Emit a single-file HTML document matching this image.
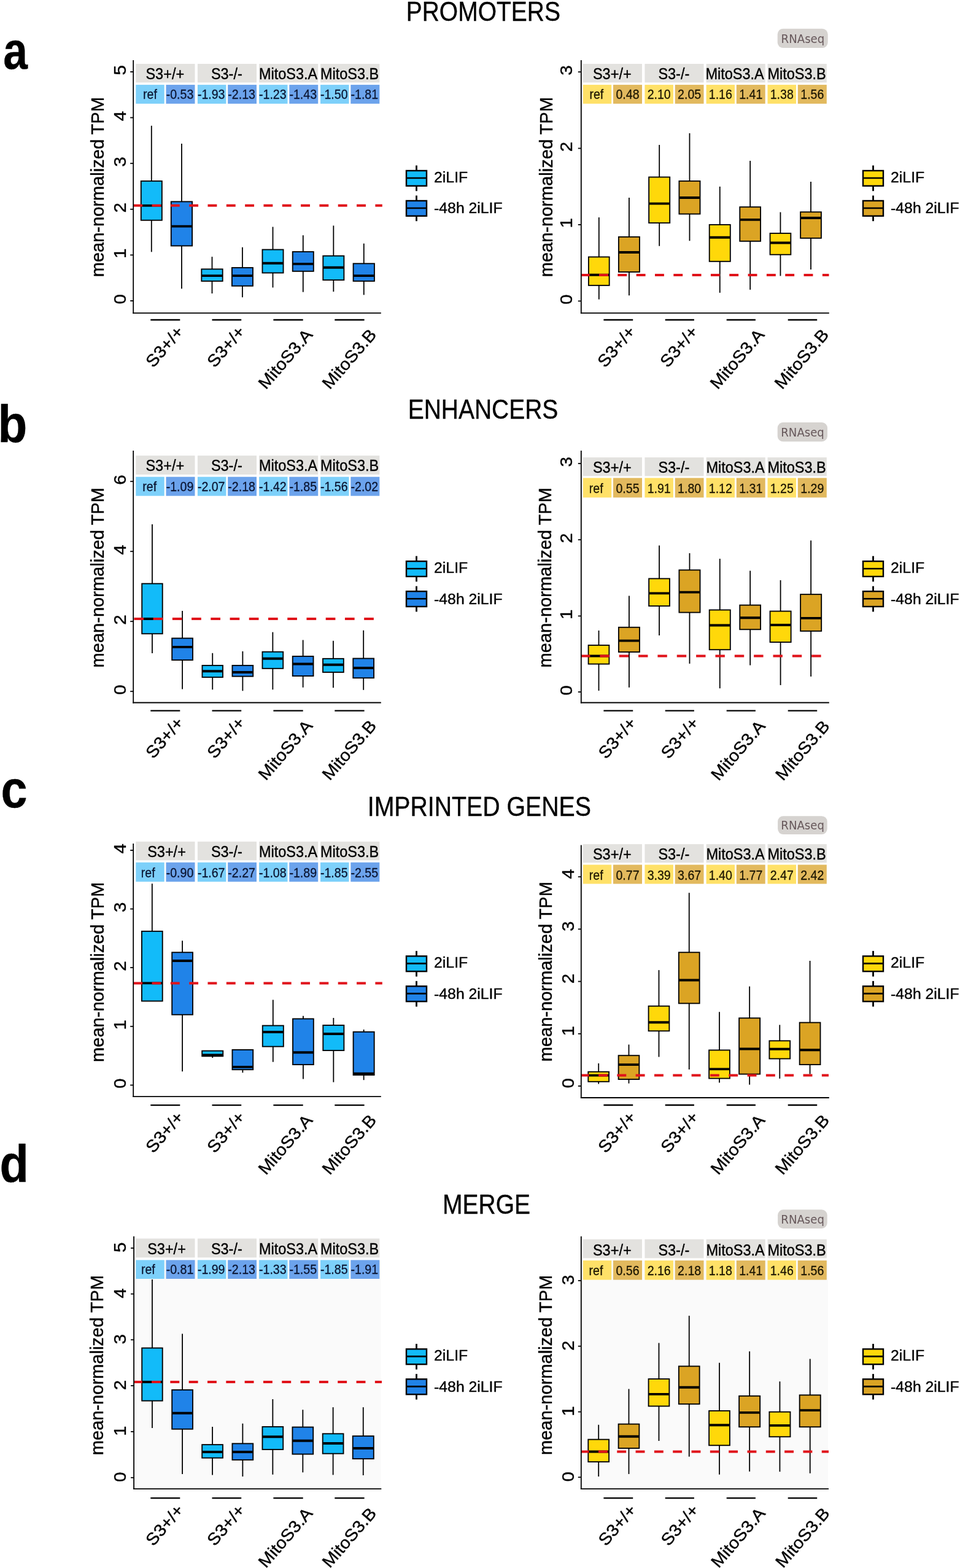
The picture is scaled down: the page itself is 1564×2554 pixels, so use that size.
<!DOCTYPE html>
<html lang="en">
<head>
<meta charset="utf-8">
<title>Figure: promoters, enhancers, imprinted genes, merge</title>
<style>
html,body{margin:0;padding:0;background:#fff;}
body{width:1564px;height:2554px;overflow:hidden;font-family:"Liberation Sans", Arial, Helvetica, sans-serif;}
svg{display:block;}
text{white-space:pre;stroke-width:0.4px;paint-order:stroke;stroke-linejoin:round;}
</style>
</head>
<body>
<svg width="1564" height="2554" viewBox="0 0 1564 2554" font-family='"Liberation Sans", Arial, Helvetica, sans-serif'>
<rect x="0.00" y="0.00" width="1564.00" height="2554.00" fill="#fff"/>
<rect x="221.30" y="104.00" width="96.20" height="30.40" fill="#e3e2df"/>
<text transform="translate(268.80,128.70) scale(0.89,1)" font-size="26.4" text-anchor="middle" fill="#000" stroke="#000">S3+/+</text>
<rect x="321.90" y="104.00" width="96.10" height="30.40" fill="#e3e2df"/>
<text transform="translate(369.35,128.70) scale(0.89,1)" font-size="26.4" text-anchor="middle" fill="#000" stroke="#000">S3-/-</text>
<rect x="422.10" y="104.00" width="96.10" height="30.40" fill="#e3e2df"/>
<text transform="translate(469.55,128.70) scale(0.89,1)" font-size="26.4" text-anchor="middle" fill="#000" stroke="#000">MitoS3.A</text>
<rect x="522.00" y="104.00" width="96.30" height="30.40" fill="#e3e2df"/>
<text transform="translate(569.55,128.70) scale(0.89,1)" font-size="26.4" text-anchor="middle" fill="#000" stroke="#000">MitoS3.B</text>
<rect x="221.30" y="138.10" width="46.40" height="30.80" fill="#7dd0fa"/>
<text transform="translate(244.50,161.20) scale(0.905,1)" font-size="21.6" text-anchor="middle" fill="#0a1430" stroke="#0a1430" style="stroke-width:0.3px">ref</text>
<rect x="270.50" y="138.10" width="47.00" height="30.80" fill="#6ca3ec"/>
<text transform="translate(293.00,161.20) scale(0.905,1)" font-size="21.6" text-anchor="middle" fill="#0a1430" stroke="#0a1430" style="stroke-width:0.3px">-0.53</text>
<rect x="321.90" y="138.10" width="46.50" height="30.80" fill="#7dd0fa"/>
<text transform="translate(344.15,161.20) scale(0.905,1)" font-size="21.6" text-anchor="middle" fill="#0a1430" stroke="#0a1430" style="stroke-width:0.3px">-1.93</text>
<rect x="371.20" y="138.10" width="46.80" height="30.80" fill="#6ca3ec"/>
<text transform="translate(393.60,161.20) scale(0.905,1)" font-size="21.6" text-anchor="middle" fill="#0a1430" stroke="#0a1430" style="stroke-width:0.3px">-2.13</text>
<rect x="422.10" y="138.10" width="46.40" height="30.80" fill="#7dd0fa"/>
<text transform="translate(444.30,161.20) scale(0.905,1)" font-size="21.6" text-anchor="middle" fill="#0a1430" stroke="#0a1430" style="stroke-width:0.3px">-1.23</text>
<rect x="471.30" y="138.10" width="46.90" height="30.80" fill="#6ca3ec"/>
<text transform="translate(493.75,161.20) scale(0.905,1)" font-size="21.6" text-anchor="middle" fill="#0a1430" stroke="#0a1430" style="stroke-width:0.3px">-1.43</text>
<rect x="522.00" y="138.10" width="46.50" height="30.80" fill="#7dd0fa"/>
<text transform="translate(544.25,161.20) scale(0.905,1)" font-size="21.6" text-anchor="middle" fill="#0a1430" stroke="#0a1430" style="stroke-width:0.3px">-1.50</text>
<rect x="571.30" y="138.10" width="47.00" height="30.80" fill="#6ca3ec"/>
<text transform="translate(593.80,161.20) scale(0.905,1)" font-size="21.6" text-anchor="middle" fill="#0a1430" stroke="#0a1430" style="stroke-width:0.3px">-1.81</text>
<line x1="246.80" y1="204.78" x2="246.80" y2="410.35" stroke="#000" stroke-width="1.8"/>
<rect x="229.76" y="294.89" width="34.08" height="63.86" fill="#12bbf9" stroke="#000" stroke-width="1.85"/>
<line x1="229.76" y1="334.83" x2="263.84" y2="334.83" stroke="#000" stroke-width="3.9"/>
<line x1="295.93" y1="233.94" x2="295.93" y2="470.13" stroke="#000" stroke-width="1.8"/>
<rect x="278.75" y="328.42" width="34.37" height="72.02" fill="#2083e8" stroke="#000" stroke-width="1.85"/>
<line x1="278.75" y1="368.66" x2="313.12" y2="368.66" stroke="#000" stroke-width="3.9"/>
<line x1="345.50" y1="418.23" x2="345.50" y2="478.00" stroke="#000" stroke-width="1.8"/>
<rect x="328.32" y="438.35" width="34.37" height="19.54" fill="#12bbf9" stroke="#000" stroke-width="1.85"/>
<line x1="328.32" y1="449.14" x2="362.69" y2="449.14" stroke="#000" stroke-width="3.9"/>
<line x1="394.93" y1="402.77" x2="394.93" y2="484.13" stroke="#000" stroke-width="1.8"/>
<rect x="377.89" y="436.01" width="34.08" height="29.74" fill="#2083e8" stroke="#000" stroke-width="1.85"/>
<line x1="377.89" y1="449.14" x2="411.97" y2="449.14" stroke="#000" stroke-width="3.9"/>
<line x1="444.50" y1="369.53" x2="444.50" y2="468.38" stroke="#000" stroke-width="1.8"/>
<rect x="427.46" y="406.56" width="34.08" height="37.91" fill="#12bbf9" stroke="#000" stroke-width="1.85"/>
<line x1="427.46" y1="428.72" x2="461.54" y2="428.72" stroke="#000" stroke-width="3.9"/>
<line x1="493.77" y1="383.24" x2="493.77" y2="475.67" stroke="#000" stroke-width="1.8"/>
<rect x="476.73" y="410.06" width="34.08" height="31.78" fill="#2083e8" stroke="#000" stroke-width="1.85"/>
<line x1="476.73" y1="429.89" x2="510.82" y2="429.89" stroke="#000" stroke-width="3.9"/>
<line x1="543.34" y1="367.49" x2="543.34" y2="475.09" stroke="#000" stroke-width="1.8"/>
<rect x="526.30" y="416.77" width="34.08" height="39.36" fill="#12bbf9" stroke="#000" stroke-width="1.85"/>
<line x1="526.30" y1="435.72" x2="560.39" y2="435.72" stroke="#000" stroke-width="3.9"/>
<line x1="592.77" y1="396.65" x2="592.77" y2="480.34" stroke="#000" stroke-width="1.8"/>
<rect x="575.58" y="429.31" width="34.37" height="28.58" fill="#2083e8" stroke="#000" stroke-width="1.85"/>
<line x1="575.58" y1="449.14" x2="609.96" y2="449.14" stroke="#000" stroke-width="3.9"/>
<line x1="217.20" y1="334.83" x2="622.80" y2="334.83" stroke="#e0131a" stroke-width="4.0" stroke-dasharray="14.9 15.42" stroke-dashoffset="0"/>
<line x1="217.20" y1="98.00" x2="217.20" y2="510.70" stroke="#000" stroke-width="1.8"/>
<line x1="216.30" y1="509.80" x2="620.80" y2="509.80" stroke="#000" stroke-width="1.8"/>
<line x1="212.20" y1="117.00" x2="217.20" y2="117.00" stroke="#000" stroke-width="1.8"/>
<text transform="translate(205.30,114.40) rotate(-90) scale(1.04,1)" font-size="28.4" text-anchor="middle" fill="#000" stroke="#000">5</text>
<line x1="212.20" y1="191.60" x2="217.20" y2="191.60" stroke="#000" stroke-width="1.8"/>
<text transform="translate(205.30,189.00) rotate(-90) scale(1.04,1)" font-size="28.4" text-anchor="middle" fill="#000" stroke="#000">4</text>
<line x1="212.20" y1="266.20" x2="217.20" y2="266.20" stroke="#000" stroke-width="1.8"/>
<text transform="translate(205.30,263.60) rotate(-90) scale(1.04,1)" font-size="28.4" text-anchor="middle" fill="#000" stroke="#000">3</text>
<line x1="212.20" y1="340.80" x2="217.20" y2="340.80" stroke="#000" stroke-width="1.8"/>
<text transform="translate(205.30,338.20) rotate(-90) scale(1.04,1)" font-size="28.4" text-anchor="middle" fill="#000" stroke="#000">2</text>
<line x1="212.20" y1="415.40" x2="217.20" y2="415.40" stroke="#000" stroke-width="1.8"/>
<text transform="translate(205.30,412.80) rotate(-90) scale(1.04,1)" font-size="28.4" text-anchor="middle" fill="#000" stroke="#000">1</text>
<line x1="212.20" y1="490.00" x2="217.20" y2="490.00" stroke="#000" stroke-width="1.8"/>
<text transform="translate(205.30,487.40) rotate(-90) scale(1.04,1)" font-size="28.4" text-anchor="middle" fill="#000" stroke="#000">0</text>
<text transform="translate(168.60,304.70) rotate(-90) scale(0.985,1)" font-size="29.5" text-anchor="middle" fill="#000" stroke="#000">mean-normalized TPM</text>
<line x1="245.30" y1="521.00" x2="293.30" y2="521.00" stroke="#000" stroke-width="2.3"/>
<text transform="translate(300.60,541.00) rotate(-49.2) scale(1.06,1)" font-size="27.5" text-anchor="end" fill="#000" stroke="#000">S3+/+</text>
<line x1="345.50" y1="521.00" x2="393.20" y2="521.00" stroke="#000" stroke-width="2.3"/>
<text transform="translate(400.60,541.00) rotate(-49.2) scale(1.06,1)" font-size="27.5" text-anchor="end" fill="#000" stroke="#000">S3+/+</text>
<line x1="445.40" y1="521.00" x2="493.70" y2="521.00" stroke="#000" stroke-width="2.3"/>
<text transform="translate(510.60,546.00) rotate(-49.2) scale(1.06,1)" font-size="27.5" text-anchor="end" fill="#000" stroke="#000">MitoS3.A</text>
<line x1="545.30" y1="521.00" x2="593.60" y2="521.00" stroke="#000" stroke-width="2.3"/>
<text transform="translate(614.60,546.00) rotate(-49.2) scale(1.06,1)" font-size="27.5" text-anchor="end" fill="#000" stroke="#000">MitoS3.B</text>
<line x1="678.50" y1="269.50" x2="678.50" y2="311.20" stroke="#000" stroke-width="2.8"/>
<rect x="662.00" y="278.00" width="33.00" height="24.80" fill="#12bbf9" stroke="#000" stroke-width="2.4"/>
<line x1="662.00" y1="290.00" x2="695.00" y2="290.00" stroke="#000" stroke-width="2.6"/>
<text transform="translate(707.10,296.70) scale(1.015,1)" font-size="24.4" text-anchor="start" fill="#000" stroke="#000">2iLIF</text>
<line x1="678.50" y1="318.50" x2="678.50" y2="360.20" stroke="#000" stroke-width="2.8"/>
<rect x="662.00" y="327.00" width="33.00" height="24.80" fill="#2083e8" stroke="#000" stroke-width="2.4"/>
<line x1="662.00" y1="339.00" x2="695.00" y2="339.00" stroke="#000" stroke-width="2.6"/>
<text transform="translate(707.10,347.40) scale(1.015,1)" font-size="24.4" text-anchor="start" fill="#000" stroke="#000">-48h 2iLIF</text>
<rect x="949.80" y="104.00" width="96.20" height="30.40" fill="#e3e2df"/>
<text transform="translate(997.30,128.70) scale(0.89,1)" font-size="26.4" text-anchor="middle" fill="#000" stroke="#000">S3+/+</text>
<rect x="1050.40" y="104.00" width="96.10" height="30.40" fill="#e3e2df"/>
<text transform="translate(1097.85,128.70) scale(0.89,1)" font-size="26.4" text-anchor="middle" fill="#000" stroke="#000">S3-/-</text>
<rect x="1150.60" y="104.00" width="96.10" height="30.40" fill="#e3e2df"/>
<text transform="translate(1197.05,128.70) scale(0.89,1)" font-size="26.4" text-anchor="middle" fill="#000" stroke="#000">MitoS3.A</text>
<rect x="1250.50" y="104.00" width="96.30" height="30.40" fill="#e3e2df"/>
<text transform="translate(1298.05,128.70) scale(0.89,1)" font-size="26.4" text-anchor="middle" fill="#000" stroke="#000">MitoS3.B</text>
<rect x="949.80" y="138.10" width="46.40" height="30.80" fill="#ffe168"/>
<text transform="translate(971.80,161.20) scale(0.905,1)" font-size="21.6" text-anchor="middle" fill="#1a1400" stroke="#1a1400" style="stroke-width:0.3px">ref</text>
<rect x="999.00" y="138.10" width="47.00" height="30.80" fill="#e2b95e"/>
<text transform="translate(1022.50,161.20) scale(0.905,1)" font-size="21.6" text-anchor="middle" fill="#1a1400" stroke="#1a1400" style="stroke-width:0.3px">0.48</text>
<rect x="1050.40" y="138.10" width="46.50" height="30.80" fill="#ffe168"/>
<text transform="translate(1073.65,161.20) scale(0.905,1)" font-size="21.6" text-anchor="middle" fill="#1a1400" stroke="#1a1400" style="stroke-width:0.3px">2.10</text>
<rect x="1099.70" y="138.10" width="46.80" height="30.80" fill="#e2b95e"/>
<text transform="translate(1123.10,161.20) scale(0.905,1)" font-size="21.6" text-anchor="middle" fill="#1a1400" stroke="#1a1400" style="stroke-width:0.3px">2.05</text>
<rect x="1150.60" y="138.10" width="46.40" height="30.80" fill="#ffe168"/>
<text transform="translate(1173.80,161.20) scale(0.905,1)" font-size="21.6" text-anchor="middle" fill="#1a1400" stroke="#1a1400" style="stroke-width:0.3px">1.16</text>
<rect x="1199.80" y="138.10" width="46.90" height="30.80" fill="#e2b95e"/>
<text transform="translate(1223.25,161.20) scale(0.905,1)" font-size="21.6" text-anchor="middle" fill="#1a1400" stroke="#1a1400" style="stroke-width:0.3px">1.41</text>
<rect x="1250.50" y="138.10" width="46.50" height="30.80" fill="#ffe168"/>
<text transform="translate(1273.75,161.20) scale(0.905,1)" font-size="21.6" text-anchor="middle" fill="#1a1400" stroke="#1a1400" style="stroke-width:0.3px">1.38</text>
<rect x="1299.80" y="138.10" width="47.00" height="30.80" fill="#e2b95e"/>
<text transform="translate(1323.30,161.20) scale(0.905,1)" font-size="21.6" text-anchor="middle" fill="#1a1400" stroke="#1a1400" style="stroke-width:0.3px">1.56</text>
<line x1="975.78" y1="354.08" x2="975.78" y2="487.63" stroke="#000" stroke-width="1.8"/>
<rect x="958.88" y="418.52" width="33.79" height="46.36" fill="#ffd80a" stroke="#000" stroke-width="1.85"/>
<line x1="958.88" y1="447.68" x2="992.67" y2="447.68" stroke="#000" stroke-width="3.9"/>
<line x1="1024.91" y1="322.00" x2="1024.91" y2="481.21" stroke="#000" stroke-width="1.8"/>
<rect x="1007.87" y="385.86" width="34.08" height="57.15" fill="#dba424" stroke="#000" stroke-width="1.85"/>
<line x1="1007.87" y1="410.94" x2="1041.95" y2="410.94" stroke="#000" stroke-width="3.9"/>
<line x1="1074.19" y1="235.98" x2="1074.19" y2="400.73" stroke="#000" stroke-width="1.8"/>
<rect x="1057.15" y="288.47" width="34.08" height="74.65" fill="#ffd80a" stroke="#000" stroke-width="1.85"/>
<line x1="1057.15" y1="331.63" x2="1091.23" y2="331.63" stroke="#000" stroke-width="3.9"/>
<line x1="1123.47" y1="217.03" x2="1123.47" y2="392.28" stroke="#000" stroke-width="1.8"/>
<rect x="1106.43" y="294.89" width="34.08" height="53.65" fill="#dba424" stroke="#000" stroke-width="1.85"/>
<line x1="1106.43" y1="322.00" x2="1140.51" y2="322.00" stroke="#000" stroke-width="3.9"/>
<line x1="1172.75" y1="303.92" x2="1172.75" y2="476.84" stroke="#000" stroke-width="1.8"/>
<rect x="1155.71" y="366.03" width="34.08" height="59.78" fill="#ffd80a" stroke="#000" stroke-width="1.85"/>
<line x1="1155.71" y1="386.74" x2="1189.79" y2="386.74" stroke="#000" stroke-width="3.9"/>
<line x1="1222.17" y1="261.94" x2="1222.17" y2="471.88" stroke="#000" stroke-width="1.8"/>
<rect x="1205.28" y="337.17" width="33.79" height="55.69" fill="#dba424" stroke="#000" stroke-width="1.85"/>
<line x1="1205.28" y1="357.87" x2="1239.07" y2="357.87" stroke="#000" stroke-width="3.9"/>
<line x1="1271.45" y1="345.62" x2="1271.45" y2="449.43" stroke="#000" stroke-width="1.8"/>
<rect x="1254.55" y="380.03" width="33.79" height="34.70" fill="#ffd80a" stroke="#000" stroke-width="1.85"/>
<line x1="1254.55" y1="395.48" x2="1288.34" y2="395.48" stroke="#000" stroke-width="3.9"/>
<line x1="1321.02" y1="296.05" x2="1321.02" y2="438.93" stroke="#000" stroke-width="1.8"/>
<rect x="1304.12" y="345.33" width="33.79" height="42.57" fill="#dba424" stroke="#000" stroke-width="1.85"/>
<line x1="1304.12" y1="354.95" x2="1337.91" y2="354.95" stroke="#000" stroke-width="3.9"/>
<line x1="946.80" y1="448.11" x2="1350.50" y2="448.11" stroke="#e0131a" stroke-width="4.0" stroke-dasharray="14.9 15.42" stroke-dashoffset="1.1"/>
<line x1="946.80" y1="98.00" x2="946.80" y2="510.70" stroke="#000" stroke-width="1.8"/>
<line x1="945.90" y1="509.80" x2="1350.80" y2="509.80" stroke="#000" stroke-width="1.8"/>
<line x1="941.80" y1="117.20" x2="946.80" y2="117.20" stroke="#000" stroke-width="1.8"/>
<text transform="translate(932.30,114.60) rotate(-90) scale(1.04,1)" font-size="28.4" text-anchor="middle" fill="#000" stroke="#000">3</text>
<line x1="941.80" y1="241.60" x2="946.80" y2="241.60" stroke="#000" stroke-width="1.8"/>
<text transform="translate(932.30,239.00) rotate(-90) scale(1.04,1)" font-size="28.4" text-anchor="middle" fill="#000" stroke="#000">2</text>
<line x1="941.80" y1="366.00" x2="946.80" y2="366.00" stroke="#000" stroke-width="1.8"/>
<text transform="translate(932.30,363.40) rotate(-90) scale(1.04,1)" font-size="28.4" text-anchor="middle" fill="#000" stroke="#000">1</text>
<line x1="941.80" y1="490.40" x2="946.80" y2="490.40" stroke="#000" stroke-width="1.8"/>
<text transform="translate(932.30,487.80) rotate(-90) scale(1.04,1)" font-size="28.4" text-anchor="middle" fill="#000" stroke="#000">0</text>
<text transform="translate(899.50,304.70) rotate(-90) scale(0.985,1)" font-size="29.5" text-anchor="middle" fill="#000" stroke="#000">mean-normalized TPM</text>
<line x1="983.40" y1="521.00" x2="1031.20" y2="521.00" stroke="#000" stroke-width="2.3"/>
<text transform="translate(1036.60,541.00) rotate(-49.2) scale(1.06,1)" font-size="27.5" text-anchor="end" fill="#000" stroke="#000">S3+/+</text>
<line x1="1083.70" y1="521.00" x2="1130.90" y2="521.00" stroke="#000" stroke-width="2.3"/>
<text transform="translate(1138.60,541.00) rotate(-49.2) scale(1.06,1)" font-size="27.5" text-anchor="end" fill="#000" stroke="#000">S3+/+</text>
<line x1="1183.70" y1="521.00" x2="1230.90" y2="521.00" stroke="#000" stroke-width="2.3"/>
<text transform="translate(1246.60,546.00) rotate(-49.2) scale(1.06,1)" font-size="27.5" text-anchor="end" fill="#000" stroke="#000">MitoS3.A</text>
<line x1="1283.70" y1="521.00" x2="1331.20" y2="521.00" stroke="#000" stroke-width="2.3"/>
<text transform="translate(1351.60,546.00) rotate(-49.2) scale(1.06,1)" font-size="27.5" text-anchor="end" fill="#000" stroke="#000">MitoS3.B</text>
<line x1="1422.50" y1="269.50" x2="1422.50" y2="311.20" stroke="#000" stroke-width="2.8"/>
<rect x="1406.00" y="278.00" width="33.00" height="24.80" fill="#ffd80a" stroke="#000" stroke-width="2.4"/>
<line x1="1406.00" y1="290.00" x2="1439.00" y2="290.00" stroke="#000" stroke-width="2.6"/>
<text transform="translate(1451.10,296.70) scale(1.015,1)" font-size="24.4" text-anchor="start" fill="#000" stroke="#000">2iLIF</text>
<line x1="1422.50" y1="318.50" x2="1422.50" y2="360.20" stroke="#000" stroke-width="2.8"/>
<rect x="1406.00" y="327.00" width="33.00" height="24.80" fill="#dba424" stroke="#000" stroke-width="2.4"/>
<line x1="1406.00" y1="339.00" x2="1439.00" y2="339.00" stroke="#000" stroke-width="2.6"/>
<text transform="translate(1451.10,347.40) scale(1.015,1)" font-size="24.4" text-anchor="start" fill="#000" stroke="#000">-48h 2iLIF</text>
<rect x="221.30" y="742.10" width="96.20" height="30.90" fill="#e3e2df"/>
<text transform="translate(268.80,767.30) scale(0.89,1)" font-size="26.4" text-anchor="middle" fill="#000" stroke="#000">S3+/+</text>
<rect x="321.90" y="742.10" width="96.10" height="30.90" fill="#e3e2df"/>
<text transform="translate(369.35,767.30) scale(0.89,1)" font-size="26.4" text-anchor="middle" fill="#000" stroke="#000">S3-/-</text>
<rect x="422.10" y="742.10" width="96.10" height="30.90" fill="#e3e2df"/>
<text transform="translate(469.55,767.30) scale(0.89,1)" font-size="26.4" text-anchor="middle" fill="#000" stroke="#000">MitoS3.A</text>
<rect x="522.00" y="742.10" width="96.30" height="30.90" fill="#e3e2df"/>
<text transform="translate(569.55,767.30) scale(0.89,1)" font-size="26.4" text-anchor="middle" fill="#000" stroke="#000">MitoS3.B</text>
<rect x="221.30" y="776.70" width="46.40" height="31.00" fill="#7dd0fa"/>
<text transform="translate(243.70,800.00) scale(0.905,1)" font-size="21.6" text-anchor="middle" fill="#0a1430" stroke="#0a1430" style="stroke-width:0.3px">ref</text>
<rect x="270.50" y="776.70" width="47.00" height="31.00" fill="#6ca3ec"/>
<text transform="translate(293.00,800.00) scale(0.905,1)" font-size="21.6" text-anchor="middle" fill="#0a1430" stroke="#0a1430" style="stroke-width:0.3px">-1.09</text>
<rect x="321.90" y="776.70" width="46.50" height="31.00" fill="#7dd0fa"/>
<text transform="translate(344.15,800.00) scale(0.905,1)" font-size="21.6" text-anchor="middle" fill="#0a1430" stroke="#0a1430" style="stroke-width:0.3px">-2.07</text>
<rect x="371.20" y="776.70" width="46.80" height="31.00" fill="#6ca3ec"/>
<text transform="translate(393.60,800.00) scale(0.905,1)" font-size="21.6" text-anchor="middle" fill="#0a1430" stroke="#0a1430" style="stroke-width:0.3px">-2.18</text>
<rect x="422.10" y="776.70" width="46.40" height="31.00" fill="#7dd0fa"/>
<text transform="translate(444.30,800.00) scale(0.905,1)" font-size="21.6" text-anchor="middle" fill="#0a1430" stroke="#0a1430" style="stroke-width:0.3px">-1.42</text>
<rect x="471.30" y="776.70" width="46.90" height="31.00" fill="#6ca3ec"/>
<text transform="translate(493.75,800.00) scale(0.905,1)" font-size="21.6" text-anchor="middle" fill="#0a1430" stroke="#0a1430" style="stroke-width:0.3px">-1.85</text>
<rect x="522.00" y="776.70" width="46.50" height="31.00" fill="#7dd0fa"/>
<text transform="translate(544.25,800.00) scale(0.905,1)" font-size="21.6" text-anchor="middle" fill="#0a1430" stroke="#0a1430" style="stroke-width:0.3px">-1.56</text>
<rect x="571.30" y="776.70" width="47.00" height="31.00" fill="#6ca3ec"/>
<text transform="translate(593.80,800.00) scale(0.905,1)" font-size="21.6" text-anchor="middle" fill="#0a1430" stroke="#0a1430" style="stroke-width:0.3px">-2.02</text>
<line x1="247.97" y1="854.12" x2="247.97" y2="1064.06" stroke="#000" stroke-width="1.8"/>
<rect x="231.22" y="950.63" width="33.50" height="81.64" fill="#12bbf9" stroke="#000" stroke-width="1.85"/>
<line x1="231.22" y1="1008.07" x2="264.72" y2="1008.07" stroke="#000" stroke-width="3.9"/>
<line x1="297.10" y1="994.95" x2="297.10" y2="1122.38" stroke="#000" stroke-width="1.8"/>
<rect x="280.20" y="1039.57" width="33.79" height="35.57" fill="#2083e8" stroke="#000" stroke-width="1.85"/>
<line x1="280.20" y1="1053.85" x2="313.99" y2="1053.85" stroke="#000" stroke-width="3.9"/>
<line x1="346.23" y1="1063.77" x2="346.23" y2="1123.25" stroke="#000" stroke-width="1.8"/>
<rect x="329.48" y="1083.89" width="33.50" height="19.24" fill="#12bbf9" stroke="#000" stroke-width="1.85"/>
<line x1="329.48" y1="1093.22" x2="362.98" y2="1093.22" stroke="#000" stroke-width="3.9"/>
<line x1="395.36" y1="1060.85" x2="395.36" y2="1125.29" stroke="#000" stroke-width="1.8"/>
<rect x="378.47" y="1083.89" width="33.79" height="17.79" fill="#2083e8" stroke="#000" stroke-width="1.85"/>
<line x1="378.47" y1="1094.97" x2="412.26" y2="1094.97" stroke="#000" stroke-width="3.9"/>
<line x1="444.35" y1="1029.65" x2="444.35" y2="1123.25" stroke="#000" stroke-width="1.8"/>
<rect x="427.46" y="1061.73" width="33.79" height="27.12" fill="#12bbf9" stroke="#000" stroke-width="1.85"/>
<line x1="427.46" y1="1072.81" x2="461.25" y2="1072.81" stroke="#000" stroke-width="3.9"/>
<line x1="493.63" y1="1042.48" x2="493.63" y2="1119.75" stroke="#000" stroke-width="1.8"/>
<rect x="476.73" y="1069.02" width="33.79" height="32.07" fill="#2083e8" stroke="#000" stroke-width="1.85"/>
<line x1="476.73" y1="1081.55" x2="510.52" y2="1081.55" stroke="#000" stroke-width="3.9"/>
<line x1="542.91" y1="1043.65" x2="542.91" y2="1120.34" stroke="#000" stroke-width="1.8"/>
<rect x="526.01" y="1072.81" width="33.79" height="22.16" fill="#12bbf9" stroke="#000" stroke-width="1.85"/>
<line x1="526.01" y1="1082.72" x2="559.80" y2="1082.72" stroke="#000" stroke-width="3.9"/>
<line x1="592.19" y1="1026.74" x2="592.19" y2="1123.83" stroke="#000" stroke-width="1.8"/>
<rect x="575.29" y="1072.51" width="33.79" height="31.78" fill="#2083e8" stroke="#000" stroke-width="1.85"/>
<line x1="575.29" y1="1087.97" x2="609.08" y2="1087.97" stroke="#000" stroke-width="3.9"/>
<line x1="217.20" y1="1008.07" x2="610.00" y2="1008.07" stroke="#e0131a" stroke-width="4.0" stroke-dasharray="15.7 15.53" stroke-dashoffset="30.03"/>
<line x1="217.20" y1="734.00" x2="217.20" y2="1145.40" stroke="#000" stroke-width="1.8"/>
<line x1="216.30" y1="1144.50" x2="620.80" y2="1144.50" stroke="#000" stroke-width="1.8"/>
<line x1="212.20" y1="784.20" x2="217.20" y2="784.20" stroke="#000" stroke-width="1.8"/>
<text transform="translate(205.30,781.60) rotate(-90) scale(1.04,1)" font-size="28.4" text-anchor="middle" fill="#000" stroke="#000">6</text>
<line x1="212.20" y1="898.20" x2="217.20" y2="898.20" stroke="#000" stroke-width="1.8"/>
<text transform="translate(205.30,895.60) rotate(-90) scale(1.04,1)" font-size="28.4" text-anchor="middle" fill="#000" stroke="#000">4</text>
<line x1="212.20" y1="1012.20" x2="217.20" y2="1012.20" stroke="#000" stroke-width="1.8"/>
<text transform="translate(205.30,1009.60) rotate(-90) scale(1.04,1)" font-size="28.4" text-anchor="middle" fill="#000" stroke="#000">2</text>
<line x1="212.20" y1="1126.20" x2="217.20" y2="1126.20" stroke="#000" stroke-width="1.8"/>
<text transform="translate(205.30,1123.60) rotate(-90) scale(1.04,1)" font-size="28.4" text-anchor="middle" fill="#000" stroke="#000">0</text>
<text transform="translate(168.60,940.80) rotate(-90) scale(0.985,1)" font-size="29.5" text-anchor="middle" fill="#000" stroke="#000">mean-normalized TPM</text>
<line x1="245.30" y1="1157.70" x2="293.30" y2="1157.70" stroke="#000" stroke-width="2.3"/>
<text transform="translate(300.60,1178.00) rotate(-49.2) scale(1.06,1)" font-size="27.5" text-anchor="end" fill="#000" stroke="#000">S3+/+</text>
<line x1="345.50" y1="1157.70" x2="393.20" y2="1157.70" stroke="#000" stroke-width="2.3"/>
<text transform="translate(400.60,1178.00) rotate(-49.2) scale(1.06,1)" font-size="27.5" text-anchor="end" fill="#000" stroke="#000">S3+/+</text>
<line x1="445.40" y1="1157.70" x2="493.70" y2="1157.70" stroke="#000" stroke-width="2.3"/>
<text transform="translate(510.60,1183.00) rotate(-49.2) scale(1.06,1)" font-size="27.5" text-anchor="end" fill="#000" stroke="#000">MitoS3.A</text>
<line x1="545.30" y1="1157.70" x2="593.60" y2="1157.70" stroke="#000" stroke-width="2.3"/>
<text transform="translate(614.60,1183.00) rotate(-49.2) scale(1.06,1)" font-size="27.5" text-anchor="end" fill="#000" stroke="#000">MitoS3.B</text>
<line x1="678.50" y1="905.70" x2="678.50" y2="947.40" stroke="#000" stroke-width="2.8"/>
<rect x="662.00" y="914.20" width="33.00" height="24.80" fill="#12bbf9" stroke="#000" stroke-width="2.4"/>
<line x1="662.00" y1="926.20" x2="695.00" y2="926.20" stroke="#000" stroke-width="2.6"/>
<text transform="translate(707.10,932.90) scale(1.015,1)" font-size="24.4" text-anchor="start" fill="#000" stroke="#000">2iLIF</text>
<line x1="678.50" y1="954.70" x2="678.50" y2="996.40" stroke="#000" stroke-width="2.8"/>
<rect x="662.00" y="963.20" width="33.00" height="24.80" fill="#2083e8" stroke="#000" stroke-width="2.4"/>
<line x1="662.00" y1="975.20" x2="695.00" y2="975.20" stroke="#000" stroke-width="2.6"/>
<text transform="translate(707.10,983.60) scale(1.015,1)" font-size="24.4" text-anchor="start" fill="#000" stroke="#000">-48h 2iLIF</text>
<rect x="949.80" y="745.00" width="96.20" height="30.40" fill="#e3e2df"/>
<text transform="translate(997.30,770.30) scale(0.89,1)" font-size="26.4" text-anchor="middle" fill="#000" stroke="#000">S3+/+</text>
<rect x="1050.40" y="745.00" width="96.10" height="30.40" fill="#e3e2df"/>
<text transform="translate(1097.85,770.30) scale(0.89,1)" font-size="26.4" text-anchor="middle" fill="#000" stroke="#000">S3-/-</text>
<rect x="1150.60" y="745.00" width="96.10" height="30.40" fill="#e3e2df"/>
<text transform="translate(1198.05,770.30) scale(0.89,1)" font-size="26.4" text-anchor="middle" fill="#000" stroke="#000">MitoS3.A</text>
<rect x="1250.50" y="745.00" width="96.30" height="30.40" fill="#e3e2df"/>
<text transform="translate(1298.05,770.30) scale(0.89,1)" font-size="26.4" text-anchor="middle" fill="#000" stroke="#000">MitoS3.B</text>
<rect x="949.80" y="778.50" width="46.40" height="31.90" fill="#ffe168"/>
<text transform="translate(971.20,803.10) scale(0.905,1)" font-size="21.6" text-anchor="middle" fill="#1a1400" stroke="#1a1400" style="stroke-width:0.3px">ref</text>
<rect x="999.00" y="778.50" width="47.00" height="31.90" fill="#e2b95e"/>
<text transform="translate(1022.50,803.10) scale(0.905,1)" font-size="21.6" text-anchor="middle" fill="#1a1400" stroke="#1a1400" style="stroke-width:0.3px">0.55</text>
<rect x="1050.40" y="778.50" width="46.50" height="31.90" fill="#ffe168"/>
<text transform="translate(1073.65,803.10) scale(0.905,1)" font-size="21.6" text-anchor="middle" fill="#1a1400" stroke="#1a1400" style="stroke-width:0.3px">1.91</text>
<rect x="1099.70" y="778.50" width="46.80" height="31.90" fill="#e2b95e"/>
<text transform="translate(1123.10,803.10) scale(0.905,1)" font-size="21.6" text-anchor="middle" fill="#1a1400" stroke="#1a1400" style="stroke-width:0.3px">1.80</text>
<rect x="1150.60" y="778.50" width="46.40" height="31.90" fill="#ffe168"/>
<text transform="translate(1173.80,803.10) scale(0.905,1)" font-size="21.6" text-anchor="middle" fill="#1a1400" stroke="#1a1400" style="stroke-width:0.3px">1.12</text>
<rect x="1199.80" y="778.50" width="46.90" height="31.90" fill="#e2b95e"/>
<text transform="translate(1223.25,803.10) scale(0.905,1)" font-size="21.6" text-anchor="middle" fill="#1a1400" stroke="#1a1400" style="stroke-width:0.3px">1.31</text>
<rect x="1250.50" y="778.50" width="46.50" height="31.90" fill="#ffe168"/>
<text transform="translate(1273.75,803.10) scale(0.905,1)" font-size="21.6" text-anchor="middle" fill="#1a1400" stroke="#1a1400" style="stroke-width:0.3px">1.25</text>
<rect x="1299.80" y="778.50" width="47.00" height="31.90" fill="#e2b95e"/>
<text transform="translate(1323.30,803.10) scale(0.905,1)" font-size="21.6" text-anchor="middle" fill="#1a1400" stroke="#1a1400" style="stroke-width:0.3px">1.29</text>
<line x1="975.49" y1="1027.03" x2="975.49" y2="1125.00" stroke="#000" stroke-width="1.8"/>
<rect x="958.59" y="1050.94" width="33.79" height="30.62" fill="#ffd80a" stroke="#000" stroke-width="1.85"/>
<line x1="958.59" y1="1068.43" x2="992.38" y2="1068.43" stroke="#000" stroke-width="3.9"/>
<line x1="1024.91" y1="970.46" x2="1024.91" y2="1119.75" stroke="#000" stroke-width="1.8"/>
<rect x="1007.87" y="1021.78" width="34.08" height="40.24" fill="#dba424" stroke="#000" stroke-width="1.85"/>
<line x1="1007.87" y1="1043.65" x2="1041.95" y2="1043.65" stroke="#000" stroke-width="3.9"/>
<line x1="1074.04" y1="888.52" x2="1074.04" y2="1034.90" stroke="#000" stroke-width="1.8"/>
<rect x="1057.15" y="942.47" width="33.79" height="44.61" fill="#ffd80a" stroke="#000" stroke-width="1.85"/>
<line x1="1057.15" y1="966.38" x2="1090.94" y2="966.38" stroke="#000" stroke-width="3.9"/>
<line x1="1123.47" y1="901.06" x2="1123.47" y2="1080.97" stroke="#000" stroke-width="1.8"/>
<rect x="1106.43" y="928.47" width="34.08" height="69.11" fill="#dba424" stroke="#000" stroke-width="1.85"/>
<line x1="1106.43" y1="964.63" x2="1140.51" y2="964.63" stroke="#000" stroke-width="3.9"/>
<line x1="1172.75" y1="910.10" x2="1172.75" y2="1121.21" stroke="#000" stroke-width="1.8"/>
<rect x="1155.71" y="993.49" width="34.08" height="64.73" fill="#ffd80a" stroke="#000" stroke-width="1.85"/>
<line x1="1155.71" y1="1018.57" x2="1189.79" y2="1018.57" stroke="#000" stroke-width="3.9"/>
<line x1="1222.17" y1="929.64" x2="1222.17" y2="1083.60" stroke="#000" stroke-width="1.8"/>
<rect x="1205.28" y="985.62" width="33.79" height="39.66" fill="#dba424" stroke="#000" stroke-width="1.85"/>
<line x1="1205.28" y1="1006.32" x2="1239.07" y2="1006.32" stroke="#000" stroke-width="3.9"/>
<line x1="1271.59" y1="945.09" x2="1271.59" y2="1115.96" stroke="#000" stroke-width="1.8"/>
<rect x="1254.55" y="995.54" width="34.08" height="50.44" fill="#ffd80a" stroke="#000" stroke-width="1.85"/>
<line x1="1254.55" y1="1017.99" x2="1288.64" y2="1017.99" stroke="#000" stroke-width="3.9"/>
<line x1="1321.16" y1="880.36" x2="1321.16" y2="1101.97" stroke="#000" stroke-width="1.8"/>
<rect x="1304.12" y="968.13" width="34.08" height="59.78" fill="#dba424" stroke="#000" stroke-width="1.85"/>
<line x1="1304.12" y1="1006.91" x2="1338.21" y2="1006.91" stroke="#000" stroke-width="3.9"/>
<line x1="946.80" y1="1068.43" x2="1340.00" y2="1068.43" stroke="#e0131a" stroke-width="4.0" stroke-dasharray="15.4 15.95" stroke-dashoffset="0.8"/>
<line x1="946.80" y1="734.00" x2="946.80" y2="1145.40" stroke="#000" stroke-width="1.8"/>
<line x1="945.90" y1="1144.50" x2="1350.80" y2="1144.50" stroke="#000" stroke-width="1.8"/>
<line x1="941.80" y1="755.00" x2="946.80" y2="755.00" stroke="#000" stroke-width="1.8"/>
<text transform="translate(932.30,752.40) rotate(-90) scale(1.04,1)" font-size="28.4" text-anchor="middle" fill="#000" stroke="#000">3</text>
<line x1="941.80" y1="879.20" x2="946.80" y2="879.20" stroke="#000" stroke-width="1.8"/>
<text transform="translate(932.30,876.60) rotate(-90) scale(1.04,1)" font-size="28.4" text-anchor="middle" fill="#000" stroke="#000">2</text>
<line x1="941.80" y1="1003.40" x2="946.80" y2="1003.40" stroke="#000" stroke-width="1.8"/>
<text transform="translate(932.30,1000.80) rotate(-90) scale(1.04,1)" font-size="28.4" text-anchor="middle" fill="#000" stroke="#000">1</text>
<line x1="941.80" y1="1127.10" x2="946.80" y2="1127.10" stroke="#000" stroke-width="1.8"/>
<text transform="translate(932.30,1124.50) rotate(-90) scale(1.04,1)" font-size="28.4" text-anchor="middle" fill="#000" stroke="#000">0</text>
<text transform="translate(898.20,940.80) rotate(-90) scale(0.985,1)" font-size="29.5" text-anchor="middle" fill="#000" stroke="#000">mean-normalized TPM</text>
<line x1="983.40" y1="1157.70" x2="1031.20" y2="1157.70" stroke="#000" stroke-width="2.3"/>
<text transform="translate(1038.10,1178.50) rotate(-49.2) scale(1.06,1)" font-size="27.5" text-anchor="end" fill="#000" stroke="#000">S3+/+</text>
<line x1="1083.70" y1="1157.70" x2="1130.90" y2="1157.70" stroke="#000" stroke-width="2.3"/>
<text transform="translate(1140.10,1178.50) rotate(-49.2) scale(1.06,1)" font-size="27.5" text-anchor="end" fill="#000" stroke="#000">S3+/+</text>
<line x1="1183.70" y1="1157.70" x2="1230.90" y2="1157.70" stroke="#000" stroke-width="2.3"/>
<text transform="translate(1248.10,1183.50) rotate(-49.2) scale(1.06,1)" font-size="27.5" text-anchor="end" fill="#000" stroke="#000">MitoS3.A</text>
<line x1="1283.70" y1="1157.70" x2="1331.20" y2="1157.70" stroke="#000" stroke-width="2.3"/>
<text transform="translate(1353.10,1183.50) rotate(-49.2) scale(1.06,1)" font-size="27.5" text-anchor="end" fill="#000" stroke="#000">MitoS3.B</text>
<line x1="1422.50" y1="905.70" x2="1422.50" y2="947.40" stroke="#000" stroke-width="2.8"/>
<rect x="1406.00" y="914.20" width="33.00" height="24.80" fill="#ffd80a" stroke="#000" stroke-width="2.4"/>
<line x1="1406.00" y1="926.20" x2="1439.00" y2="926.20" stroke="#000" stroke-width="2.6"/>
<text transform="translate(1451.10,932.90) scale(1.015,1)" font-size="24.4" text-anchor="start" fill="#000" stroke="#000">2iLIF</text>
<line x1="1422.50" y1="954.70" x2="1422.50" y2="996.40" stroke="#000" stroke-width="2.8"/>
<rect x="1406.00" y="963.20" width="33.00" height="24.80" fill="#dba424" stroke="#000" stroke-width="2.4"/>
<line x1="1406.00" y1="975.20" x2="1439.00" y2="975.20" stroke="#000" stroke-width="2.6"/>
<text transform="translate(1451.10,983.60) scale(1.015,1)" font-size="24.4" text-anchor="start" fill="#000" stroke="#000">-48h 2iLIF</text>
<rect x="221.30" y="1370.80" width="96.20" height="30.50" fill="#e3e2df"/>
<text transform="translate(271.50,1396.40) scale(0.89,1)" font-size="26.4" text-anchor="middle" fill="#000" stroke="#000">S3+/+</text>
<rect x="321.90" y="1370.80" width="96.10" height="30.50" fill="#e3e2df"/>
<text transform="translate(369.35,1396.40) scale(0.89,1)" font-size="26.4" text-anchor="middle" fill="#000" stroke="#000">S3-/-</text>
<rect x="422.10" y="1370.80" width="96.10" height="30.50" fill="#e3e2df"/>
<text transform="translate(469.55,1396.40) scale(0.89,1)" font-size="26.4" text-anchor="middle" fill="#000" stroke="#000">MitoS3.A</text>
<rect x="522.00" y="1370.80" width="96.30" height="30.50" fill="#e3e2df"/>
<text transform="translate(569.55,1396.40) scale(0.89,1)" font-size="26.4" text-anchor="middle" fill="#000" stroke="#000">MitoS3.B</text>
<rect x="221.30" y="1404.70" width="46.40" height="31.50" fill="#7dd0fa"/>
<text transform="translate(241.20,1428.90) scale(0.905,1)" font-size="21.6" text-anchor="middle" fill="#0a1430" stroke="#0a1430" style="stroke-width:0.3px">ref</text>
<rect x="270.50" y="1404.70" width="47.00" height="31.50" fill="#6ca3ec"/>
<text transform="translate(293.00,1428.90) scale(0.905,1)" font-size="21.6" text-anchor="middle" fill="#0a1430" stroke="#0a1430" style="stroke-width:0.3px">-0.90</text>
<rect x="321.90" y="1404.70" width="46.50" height="31.50" fill="#7dd0fa"/>
<text transform="translate(344.15,1428.90) scale(0.905,1)" font-size="21.6" text-anchor="middle" fill="#0a1430" stroke="#0a1430" style="stroke-width:0.3px">-1.67</text>
<rect x="371.20" y="1404.70" width="46.80" height="31.50" fill="#6ca3ec"/>
<text transform="translate(393.60,1428.90) scale(0.905,1)" font-size="21.6" text-anchor="middle" fill="#0a1430" stroke="#0a1430" style="stroke-width:0.3px">-2.27</text>
<rect x="422.10" y="1404.70" width="46.40" height="31.50" fill="#7dd0fa"/>
<text transform="translate(444.30,1428.90) scale(0.905,1)" font-size="21.6" text-anchor="middle" fill="#0a1430" stroke="#0a1430" style="stroke-width:0.3px">-1.08</text>
<rect x="471.30" y="1404.70" width="46.90" height="31.50" fill="#6ca3ec"/>
<text transform="translate(493.75,1428.90) scale(0.905,1)" font-size="21.6" text-anchor="middle" fill="#0a1430" stroke="#0a1430" style="stroke-width:0.3px">-1.89</text>
<rect x="522.00" y="1404.70" width="46.50" height="31.50" fill="#7dd0fa"/>
<text transform="translate(544.25,1428.90) scale(0.905,1)" font-size="21.6" text-anchor="middle" fill="#0a1430" stroke="#0a1430" style="stroke-width:0.3px">-1.85</text>
<rect x="571.30" y="1404.70" width="47.00" height="31.50" fill="#6ca3ec"/>
<text transform="translate(593.80,1428.90) scale(0.905,1)" font-size="21.6" text-anchor="middle" fill="#0a1430" stroke="#0a1430" style="stroke-width:0.3px">-2.55</text>
<line x1="247.82" y1="1439.30" x2="247.82" y2="1630.58" stroke="#000" stroke-width="1.8"/>
<rect x="230.93" y="1516.86" width="33.79" height="113.72" fill="#12bbf9" stroke="#000" stroke-width="1.85"/>
<line x1="230.93" y1="1601.42" x2="264.72" y2="1601.42" stroke="#000" stroke-width="3.9"/>
<line x1="297.10" y1="1532.31" x2="297.10" y2="1745.17" stroke="#000" stroke-width="1.8"/>
<rect x="280.20" y="1551.27" width="33.79" height="101.47" fill="#2083e8" stroke="#000" stroke-width="1.85"/>
<line x1="280.20" y1="1564.97" x2="313.99" y2="1564.97" stroke="#000" stroke-width="3.9"/>
<line x1="346.23" y1="1711.64" x2="346.23" y2="1723.01" stroke="#000" stroke-width="1.8"/>
<rect x="329.19" y="1711.64" width="34.08" height="8.75" fill="#12bbf9" stroke="#000" stroke-width="1.85"/>
<line x1="329.19" y1="1718.35" x2="363.27" y2="1718.35" stroke="#000" stroke-width="3.9"/>
<line x1="395.36" y1="1709.89" x2="395.36" y2="1747.21" stroke="#000" stroke-width="1.8"/>
<rect x="378.47" y="1709.89" width="33.79" height="32.37" fill="#2083e8" stroke="#000" stroke-width="1.85"/>
<line x1="378.47" y1="1737.88" x2="412.26" y2="1737.88" stroke="#000" stroke-width="3.9"/>
<line x1="444.79" y1="1628.54" x2="444.79" y2="1729.72" stroke="#000" stroke-width="1.8"/>
<rect x="427.75" y="1670.53" width="34.08" height="34.12" fill="#12bbf9" stroke="#000" stroke-width="1.85"/>
<line x1="427.75" y1="1681.02" x2="461.83" y2="1681.02" stroke="#000" stroke-width="3.9"/>
<line x1="493.92" y1="1654.78" x2="493.92" y2="1757.42" stroke="#000" stroke-width="1.8"/>
<rect x="477.03" y="1659.45" width="33.79" height="74.65" fill="#2083e8" stroke="#000" stroke-width="1.85"/>
<line x1="477.03" y1="1714.26" x2="510.82" y2="1714.26" stroke="#000" stroke-width="3.9"/>
<line x1="543.34" y1="1657.99" x2="543.34" y2="1762.67" stroke="#000" stroke-width="1.8"/>
<rect x="526.30" y="1669.94" width="34.08" height="41.11" fill="#12bbf9" stroke="#000" stroke-width="1.85"/>
<line x1="526.30" y1="1683.94" x2="560.39" y2="1683.94" stroke="#000" stroke-width="3.9"/>
<line x1="592.62" y1="1676.94" x2="592.62" y2="1759.17" stroke="#000" stroke-width="1.8"/>
<rect x="575.58" y="1680.73" width="34.08" height="70.27" fill="#2083e8" stroke="#000" stroke-width="1.85"/>
<line x1="575.58" y1="1748.67" x2="609.66" y2="1748.67" stroke="#000" stroke-width="3.9"/>
<line x1="217.20" y1="1601.42" x2="622.80" y2="1601.42" stroke="#e0131a" stroke-width="4.0" stroke-dasharray="14.9 15.42" stroke-dashoffset="0"/>
<line x1="217.20" y1="1374.00" x2="217.20" y2="1787.00" stroke="#000" stroke-width="1.8"/>
<line x1="216.30" y1="1786.10" x2="620.80" y2="1786.10" stroke="#000" stroke-width="1.8"/>
<line x1="212.20" y1="1385.00" x2="217.20" y2="1385.00" stroke="#000" stroke-width="1.8"/>
<text transform="translate(205.30,1382.40) rotate(-90) scale(1.04,1)" font-size="28.4" text-anchor="middle" fill="#000" stroke="#000">4</text>
<line x1="212.20" y1="1480.50" x2="217.20" y2="1480.50" stroke="#000" stroke-width="1.8"/>
<text transform="translate(205.30,1477.90) rotate(-90) scale(1.04,1)" font-size="28.4" text-anchor="middle" fill="#000" stroke="#000">3</text>
<line x1="212.20" y1="1576.10" x2="217.20" y2="1576.10" stroke="#000" stroke-width="1.8"/>
<text transform="translate(205.30,1573.50) rotate(-90) scale(1.04,1)" font-size="28.4" text-anchor="middle" fill="#000" stroke="#000">2</text>
<line x1="212.20" y1="1671.80" x2="217.20" y2="1671.80" stroke="#000" stroke-width="1.8"/>
<text transform="translate(205.30,1669.20) rotate(-90) scale(1.04,1)" font-size="28.4" text-anchor="middle" fill="#000" stroke="#000">1</text>
<line x1="212.20" y1="1767.50" x2="217.20" y2="1767.50" stroke="#000" stroke-width="1.8"/>
<text transform="translate(205.30,1764.90) rotate(-90) scale(1.04,1)" font-size="28.4" text-anchor="middle" fill="#000" stroke="#000">0</text>
<text transform="translate(168.60,1583.30) rotate(-90) scale(0.985,1)" font-size="29.5" text-anchor="middle" fill="#000" stroke="#000">mean-normalized TPM</text>
<line x1="245.30" y1="1800.20" x2="293.30" y2="1800.20" stroke="#000" stroke-width="2.3"/>
<text transform="translate(300.60,1820.50) rotate(-49.2) scale(1.06,1)" font-size="27.5" text-anchor="end" fill="#000" stroke="#000">S3+/+</text>
<line x1="345.50" y1="1800.20" x2="393.20" y2="1800.20" stroke="#000" stroke-width="2.3"/>
<text transform="translate(400.60,1820.50) rotate(-49.2) scale(1.06,1)" font-size="27.5" text-anchor="end" fill="#000" stroke="#000">S3+/+</text>
<line x1="445.40" y1="1800.20" x2="493.70" y2="1800.20" stroke="#000" stroke-width="2.3"/>
<text transform="translate(510.60,1825.50) rotate(-49.2) scale(1.06,1)" font-size="27.5" text-anchor="end" fill="#000" stroke="#000">MitoS3.A</text>
<line x1="545.30" y1="1800.20" x2="593.60" y2="1800.20" stroke="#000" stroke-width="2.3"/>
<text transform="translate(614.60,1825.50) rotate(-49.2) scale(1.06,1)" font-size="27.5" text-anchor="end" fill="#000" stroke="#000">MitoS3.B</text>
<line x1="678.50" y1="1548.90" x2="678.50" y2="1590.60" stroke="#000" stroke-width="2.8"/>
<rect x="662.00" y="1557.40" width="33.00" height="24.80" fill="#12bbf9" stroke="#000" stroke-width="2.4"/>
<line x1="662.00" y1="1569.40" x2="695.00" y2="1569.40" stroke="#000" stroke-width="2.6"/>
<text transform="translate(707.10,1576.10) scale(1.015,1)" font-size="24.4" text-anchor="start" fill="#000" stroke="#000">2iLIF</text>
<line x1="678.50" y1="1597.90" x2="678.50" y2="1639.60" stroke="#000" stroke-width="2.8"/>
<rect x="662.00" y="1606.40" width="33.00" height="24.80" fill="#2083e8" stroke="#000" stroke-width="2.4"/>
<line x1="662.00" y1="1618.40" x2="695.00" y2="1618.40" stroke="#000" stroke-width="2.6"/>
<text transform="translate(707.10,1626.80) scale(1.015,1)" font-size="24.4" text-anchor="start" fill="#000" stroke="#000">-48h 2iLIF</text>
<rect x="949.80" y="1375.00" width="96.20" height="30.20" fill="#e3e2df"/>
<text transform="translate(997.30,1400.40) scale(0.89,1)" font-size="26.4" text-anchor="middle" fill="#000" stroke="#000">S3+/+</text>
<rect x="1050.40" y="1375.00" width="96.10" height="30.20" fill="#e3e2df"/>
<text transform="translate(1097.85,1400.40) scale(0.89,1)" font-size="26.4" text-anchor="middle" fill="#000" stroke="#000">S3-/-</text>
<rect x="1150.60" y="1375.00" width="96.10" height="30.20" fill="#e3e2df"/>
<text transform="translate(1198.05,1400.40) scale(0.89,1)" font-size="26.4" text-anchor="middle" fill="#000" stroke="#000">MitoS3.A</text>
<rect x="1250.50" y="1375.00" width="96.30" height="30.20" fill="#e3e2df"/>
<text transform="translate(1298.05,1400.40) scale(0.89,1)" font-size="26.4" text-anchor="middle" fill="#000" stroke="#000">MitoS3.B</text>
<rect x="949.80" y="1408.50" width="46.40" height="31.10" fill="#ffe168"/>
<text transform="translate(971.20,1432.50) scale(0.905,1)" font-size="21.6" text-anchor="middle" fill="#1a1400" stroke="#1a1400" style="stroke-width:0.3px">ref</text>
<rect x="999.00" y="1408.50" width="47.00" height="31.10" fill="#e2b95e"/>
<text transform="translate(1022.50,1432.50) scale(0.905,1)" font-size="21.6" text-anchor="middle" fill="#1a1400" stroke="#1a1400" style="stroke-width:0.3px">0.77</text>
<rect x="1050.40" y="1408.50" width="46.50" height="31.10" fill="#ffe168"/>
<text transform="translate(1073.65,1432.50) scale(0.905,1)" font-size="21.6" text-anchor="middle" fill="#1a1400" stroke="#1a1400" style="stroke-width:0.3px">3.39</text>
<rect x="1099.70" y="1408.50" width="46.80" height="31.10" fill="#e2b95e"/>
<text transform="translate(1123.10,1432.50) scale(0.905,1)" font-size="21.6" text-anchor="middle" fill="#1a1400" stroke="#1a1400" style="stroke-width:0.3px">3.67</text>
<rect x="1150.60" y="1408.50" width="46.40" height="31.10" fill="#ffe168"/>
<text transform="translate(1173.80,1432.50) scale(0.905,1)" font-size="21.6" text-anchor="middle" fill="#1a1400" stroke="#1a1400" style="stroke-width:0.3px">1.40</text>
<rect x="1199.80" y="1408.50" width="46.90" height="31.10" fill="#e2b95e"/>
<text transform="translate(1223.25,1432.50) scale(0.905,1)" font-size="21.6" text-anchor="middle" fill="#1a1400" stroke="#1a1400" style="stroke-width:0.3px">1.77</text>
<rect x="1250.50" y="1408.50" width="46.50" height="31.10" fill="#ffe168"/>
<text transform="translate(1273.75,1432.50) scale(0.905,1)" font-size="21.6" text-anchor="middle" fill="#1a1400" stroke="#1a1400" style="stroke-width:0.3px">2.47</text>
<rect x="1299.80" y="1408.50" width="47.00" height="31.10" fill="#e2b95e"/>
<text transform="translate(1323.30,1432.50) scale(0.905,1)" font-size="21.6" text-anchor="middle" fill="#1a1400" stroke="#1a1400" style="stroke-width:0.3px">2.42</text>
<line x1="975.20" y1="1732.05" x2="975.20" y2="1765.58" stroke="#000" stroke-width="1.8"/>
<rect x="958.30" y="1745.76" width="33.79" height="16.04" fill="#ffd80a" stroke="#000" stroke-width="1.85"/>
<line x1="958.30" y1="1751.59" x2="992.09" y2="1751.59" stroke="#000" stroke-width="3.9"/>
<line x1="1024.47" y1="1701.43" x2="1024.47" y2="1764.71" stroke="#000" stroke-width="1.8"/>
<rect x="1007.58" y="1719.22" width="33.79" height="38.78" fill="#dba424" stroke="#000" stroke-width="1.85"/>
<line x1="1007.58" y1="1734.09" x2="1041.37" y2="1734.09" stroke="#000" stroke-width="3.9"/>
<line x1="1073.46" y1="1580.13" x2="1073.46" y2="1721.55" stroke="#000" stroke-width="1.8"/>
<rect x="1056.57" y="1638.74" width="33.79" height="40.53" fill="#ffd80a" stroke="#000" stroke-width="1.85"/>
<line x1="1056.57" y1="1665.28" x2="1090.36" y2="1665.28" stroke="#000" stroke-width="3.9"/>
<line x1="1122.74" y1="1454.17" x2="1122.74" y2="1741.97" stroke="#000" stroke-width="1.8"/>
<rect x="1105.84" y="1551.27" width="33.79" height="83.10" fill="#dba424" stroke="#000" stroke-width="1.85"/>
<line x1="1105.84" y1="1596.46" x2="1139.63" y2="1596.46" stroke="#000" stroke-width="3.9"/>
<line x1="1172.02" y1="1648.37" x2="1172.02" y2="1763.54" stroke="#000" stroke-width="1.8"/>
<rect x="1155.12" y="1710.47" width="33.79" height="46.07" fill="#ffd80a" stroke="#000" stroke-width="1.85"/>
<line x1="1155.12" y1="1741.38" x2="1188.91" y2="1741.38" stroke="#000" stroke-width="3.9"/>
<line x1="1221.15" y1="1606.67" x2="1221.15" y2="1766.75" stroke="#000" stroke-width="1.8"/>
<rect x="1204.11" y="1658.28" width="34.08" height="91.27" fill="#dba424" stroke="#000" stroke-width="1.85"/>
<line x1="1204.11" y1="1708.43" x2="1238.19" y2="1708.43" stroke="#000" stroke-width="3.9"/>
<line x1="1270.28" y1="1669.36" x2="1270.28" y2="1756.84" stroke="#000" stroke-width="1.8"/>
<rect x="1253.39" y="1695.31" width="33.79" height="29.16" fill="#ffd80a" stroke="#000" stroke-width="1.85"/>
<line x1="1253.39" y1="1708.72" x2="1287.18" y2="1708.72" stroke="#000" stroke-width="3.9"/>
<line x1="1319.56" y1="1564.97" x2="1319.56" y2="1749.55" stroke="#000" stroke-width="1.8"/>
<rect x="1302.67" y="1665.57" width="33.79" height="68.52" fill="#dba424" stroke="#000" stroke-width="1.85"/>
<line x1="1302.67" y1="1710.18" x2="1336.46" y2="1710.18" stroke="#000" stroke-width="3.9"/>
<line x1="946.80" y1="1751.59" x2="1350.00" y2="1751.59" stroke="#e0131a" stroke-width="4.0" stroke-dasharray="14.9 15.42" stroke-dashoffset="2.1"/>
<line x1="946.80" y1="1376.60" x2="946.80" y2="1788.90" stroke="#000" stroke-width="1.8"/>
<line x1="945.90" y1="1788.00" x2="1350.80" y2="1788.00" stroke="#000" stroke-width="1.8"/>
<line x1="941.80" y1="1428.20" x2="946.80" y2="1428.20" stroke="#000" stroke-width="1.8"/>
<text transform="translate(935.20,1423.60) rotate(-90) scale(1.04,1)" font-size="28.4" text-anchor="middle" fill="#000" stroke="#000">4</text>
<line x1="941.80" y1="1513.40" x2="946.80" y2="1513.40" stroke="#000" stroke-width="1.8"/>
<text transform="translate(935.20,1508.80) rotate(-90) scale(1.04,1)" font-size="28.4" text-anchor="middle" fill="#000" stroke="#000">3</text>
<line x1="941.80" y1="1598.60" x2="946.80" y2="1598.60" stroke="#000" stroke-width="1.8"/>
<text transform="translate(935.20,1594.00) rotate(-90) scale(1.04,1)" font-size="28.4" text-anchor="middle" fill="#000" stroke="#000">2</text>
<line x1="941.80" y1="1683.80" x2="946.80" y2="1683.80" stroke="#000" stroke-width="1.8"/>
<text transform="translate(935.20,1679.20) rotate(-90) scale(1.04,1)" font-size="28.4" text-anchor="middle" fill="#000" stroke="#000">1</text>
<line x1="941.80" y1="1769.00" x2="946.80" y2="1769.00" stroke="#000" stroke-width="1.8"/>
<text transform="translate(935.20,1764.40) rotate(-90) scale(1.04,1)" font-size="28.4" text-anchor="middle" fill="#000" stroke="#000">0</text>
<text transform="translate(898.70,1582.70) rotate(-90) scale(0.985,1)" font-size="29.5" text-anchor="middle" fill="#000" stroke="#000">mean-normalized TPM</text>
<line x1="983.40" y1="1800.00" x2="1031.20" y2="1800.00" stroke="#000" stroke-width="2.3"/>
<text transform="translate(1037.60,1820.50) rotate(-49.2) scale(1.06,1)" font-size="27.5" text-anchor="end" fill="#000" stroke="#000">S3+/+</text>
<line x1="1083.70" y1="1800.00" x2="1130.90" y2="1800.00" stroke="#000" stroke-width="2.3"/>
<text transform="translate(1139.60,1820.50) rotate(-49.2) scale(1.06,1)" font-size="27.5" text-anchor="end" fill="#000" stroke="#000">S3+/+</text>
<line x1="1183.70" y1="1800.00" x2="1230.90" y2="1800.00" stroke="#000" stroke-width="2.3"/>
<text transform="translate(1247.60,1825.50) rotate(-49.2) scale(1.06,1)" font-size="27.5" text-anchor="end" fill="#000" stroke="#000">MitoS3.A</text>
<line x1="1283.70" y1="1800.00" x2="1331.20" y2="1800.00" stroke="#000" stroke-width="2.3"/>
<text transform="translate(1352.60,1825.50) rotate(-49.2) scale(1.06,1)" font-size="27.5" text-anchor="end" fill="#000" stroke="#000">MitoS3.B</text>
<line x1="1422.50" y1="1548.90" x2="1422.50" y2="1590.60" stroke="#000" stroke-width="2.8"/>
<rect x="1406.00" y="1557.40" width="33.00" height="24.80" fill="#ffd80a" stroke="#000" stroke-width="2.4"/>
<line x1="1406.00" y1="1569.40" x2="1439.00" y2="1569.40" stroke="#000" stroke-width="2.6"/>
<text transform="translate(1451.10,1576.10) scale(1.015,1)" font-size="24.4" text-anchor="start" fill="#000" stroke="#000">2iLIF</text>
<line x1="1422.50" y1="1597.90" x2="1422.50" y2="1639.60" stroke="#000" stroke-width="2.8"/>
<rect x="1406.00" y="1606.40" width="33.00" height="24.80" fill="#dba424" stroke="#000" stroke-width="2.4"/>
<line x1="1406.00" y1="1618.40" x2="1439.00" y2="1618.40" stroke="#000" stroke-width="2.6"/>
<text transform="translate(1451.10,1626.80) scale(1.015,1)" font-size="24.4" text-anchor="start" fill="#000" stroke="#000">-48h 2iLIF</text>
<rect x="218.10" y="2052.40" width="402.50" height="372.70" fill="#fafafa"/>
<rect x="221.30" y="2017.40" width="96.20" height="30.90" fill="#e3e2df"/>
<text transform="translate(271.50,2042.90) scale(0.89,1)" font-size="26.4" text-anchor="middle" fill="#000" stroke="#000">S3+/+</text>
<rect x="321.90" y="2017.40" width="96.10" height="30.90" fill="#e3e2df"/>
<text transform="translate(369.35,2042.90) scale(0.89,1)" font-size="26.4" text-anchor="middle" fill="#000" stroke="#000">S3-/-</text>
<rect x="422.10" y="2017.40" width="96.10" height="30.90" fill="#e3e2df"/>
<text transform="translate(469.55,2042.90) scale(0.89,1)" font-size="26.4" text-anchor="middle" fill="#000" stroke="#000">MitoS3.A</text>
<rect x="522.00" y="2017.40" width="96.30" height="30.90" fill="#e3e2df"/>
<text transform="translate(569.55,2042.90) scale(0.89,1)" font-size="26.4" text-anchor="middle" fill="#000" stroke="#000">MitoS3.B</text>
<rect x="221.30" y="2052.40" width="46.40" height="30.60" fill="#7dd0fa"/>
<text transform="translate(241.30,2075.30) scale(0.905,1)" font-size="21.6" text-anchor="middle" fill="#0a1430" stroke="#0a1430" style="stroke-width:0.3px">ref</text>
<rect x="270.50" y="2052.40" width="47.00" height="30.60" fill="#6ca3ec"/>
<text transform="translate(293.00,2075.30) scale(0.905,1)" font-size="21.6" text-anchor="middle" fill="#0a1430" stroke="#0a1430" style="stroke-width:0.3px">-0.81</text>
<rect x="321.90" y="2052.40" width="46.50" height="30.60" fill="#7dd0fa"/>
<text transform="translate(344.15,2075.30) scale(0.905,1)" font-size="21.6" text-anchor="middle" fill="#0a1430" stroke="#0a1430" style="stroke-width:0.3px">-1.99</text>
<rect x="371.20" y="2052.40" width="46.80" height="30.60" fill="#6ca3ec"/>
<text transform="translate(393.60,2075.30) scale(0.905,1)" font-size="21.6" text-anchor="middle" fill="#0a1430" stroke="#0a1430" style="stroke-width:0.3px">-2.13</text>
<rect x="422.10" y="2052.40" width="46.40" height="30.60" fill="#7dd0fa"/>
<text transform="translate(444.30,2075.30) scale(0.905,1)" font-size="21.6" text-anchor="middle" fill="#0a1430" stroke="#0a1430" style="stroke-width:0.3px">-1.33</text>
<rect x="471.30" y="2052.40" width="46.90" height="30.60" fill="#6ca3ec"/>
<text transform="translate(493.75,2075.30) scale(0.905,1)" font-size="21.6" text-anchor="middle" fill="#0a1430" stroke="#0a1430" style="stroke-width:0.3px">-1.55</text>
<rect x="522.00" y="2052.40" width="46.50" height="30.60" fill="#7dd0fa"/>
<text transform="translate(544.25,2075.30) scale(0.905,1)" font-size="21.6" text-anchor="middle" fill="#0a1430" stroke="#0a1430" style="stroke-width:0.3px">-1.85</text>
<rect x="571.30" y="2052.40" width="47.00" height="30.60" fill="#6ca3ec"/>
<text transform="translate(593.80,2075.30) scale(0.905,1)" font-size="21.6" text-anchor="middle" fill="#0a1430" stroke="#0a1430" style="stroke-width:0.3px">-1.91</text>
<line x1="247.97" y1="2083.96" x2="247.97" y2="2325.98" stroke="#000" stroke-width="1.8"/>
<rect x="231.22" y="2195.64" width="33.50" height="86.02" fill="#12bbf9" stroke="#000" stroke-width="1.85"/>
<line x1="231.22" y1="2251.04" x2="264.72" y2="2251.04" stroke="#000" stroke-width="3.9"/>
<line x1="297.10" y1="2172.61" x2="297.10" y2="2400.92" stroke="#000" stroke-width="1.8"/>
<rect x="280.20" y="2263.87" width="33.79" height="63.86" fill="#2083e8" stroke="#000" stroke-width="1.85"/>
<line x1="280.20" y1="2301.78" x2="313.99" y2="2301.78" stroke="#000" stroke-width="3.9"/>
<line x1="346.09" y1="2323.94" x2="346.09" y2="2402.38" stroke="#000" stroke-width="1.8"/>
<rect x="329.19" y="2353.10" width="33.79" height="21.58" fill="#12bbf9" stroke="#000" stroke-width="1.85"/>
<line x1="329.19" y1="2365.05" x2="362.98" y2="2365.05" stroke="#000" stroke-width="3.9"/>
<line x1="395.36" y1="2318.69" x2="395.36" y2="2405.00" stroke="#000" stroke-width="1.8"/>
<rect x="378.47" y="2351.35" width="33.79" height="26.53" fill="#2083e8" stroke="#000" stroke-width="1.85"/>
<line x1="378.47" y1="2365.05" x2="412.26" y2="2365.05" stroke="#000" stroke-width="3.9"/>
<line x1="444.35" y1="2279.03" x2="444.35" y2="2401.79" stroke="#000" stroke-width="1.8"/>
<rect x="427.46" y="2323.94" width="33.79" height="37.03" fill="#12bbf9" stroke="#000" stroke-width="1.85"/>
<line x1="427.46" y1="2340.27" x2="461.25" y2="2340.27" stroke="#000" stroke-width="3.9"/>
<line x1="493.34" y1="2296.24" x2="493.34" y2="2398.29" stroke="#000" stroke-width="1.8"/>
<rect x="476.44" y="2324.52" width="33.79" height="44.03" fill="#2083e8" stroke="#000" stroke-width="1.85"/>
<line x1="476.44" y1="2346.68" x2="510.23" y2="2346.68" stroke="#000" stroke-width="3.9"/>
<line x1="542.62" y1="2292.16" x2="542.62" y2="2402.38" stroke="#000" stroke-width="1.8"/>
<rect x="525.72" y="2335.31" width="33.79" height="32.37" fill="#12bbf9" stroke="#000" stroke-width="1.85"/>
<line x1="525.72" y1="2351.06" x2="559.51" y2="2351.06" stroke="#000" stroke-width="3.9"/>
<line x1="591.75" y1="2292.16" x2="591.75" y2="2402.96" stroke="#000" stroke-width="1.8"/>
<rect x="574.71" y="2339.10" width="34.08" height="37.03" fill="#2083e8" stroke="#000" stroke-width="1.85"/>
<line x1="574.71" y1="2358.93" x2="608.79" y2="2358.93" stroke="#000" stroke-width="3.9"/>
<line x1="218.10" y1="2251.04" x2="622.00" y2="2251.04" stroke="#e0131a" stroke-width="4.0" stroke-dasharray="14.9 15.42" stroke-dashoffset="1.4"/>
<line x1="218.10" y1="2013.70" x2="218.10" y2="2426.00" stroke="#000" stroke-width="1.8"/>
<line x1="217.20" y1="2425.10" x2="621.30" y2="2425.10" stroke="#000" stroke-width="1.8"/>
<line x1="213.10" y1="2032.90" x2="218.10" y2="2032.90" stroke="#000" stroke-width="1.8"/>
<text transform="translate(204.90,2031.90) rotate(-90) scale(1.04,1)" font-size="28.4" text-anchor="middle" fill="#000" stroke="#000">5</text>
<line x1="213.10" y1="2107.60" x2="218.10" y2="2107.60" stroke="#000" stroke-width="1.8"/>
<text transform="translate(204.90,2106.60) rotate(-90) scale(1.04,1)" font-size="28.4" text-anchor="middle" fill="#000" stroke="#000">4</text>
<line x1="213.10" y1="2182.30" x2="218.10" y2="2182.30" stroke="#000" stroke-width="1.8"/>
<text transform="translate(204.90,2181.30) rotate(-90) scale(1.04,1)" font-size="28.4" text-anchor="middle" fill="#000" stroke="#000">3</text>
<line x1="213.10" y1="2257.10" x2="218.10" y2="2257.10" stroke="#000" stroke-width="1.8"/>
<text transform="translate(204.90,2256.10) rotate(-90) scale(1.04,1)" font-size="28.4" text-anchor="middle" fill="#000" stroke="#000">2</text>
<line x1="213.10" y1="2331.90" x2="218.10" y2="2331.90" stroke="#000" stroke-width="1.8"/>
<text transform="translate(204.90,2330.90) rotate(-90) scale(1.04,1)" font-size="28.4" text-anchor="middle" fill="#000" stroke="#000">1</text>
<line x1="213.10" y1="2406.80" x2="218.10" y2="2406.80" stroke="#000" stroke-width="1.8"/>
<text transform="translate(204.90,2405.80) rotate(-90) scale(1.04,1)" font-size="28.4" text-anchor="middle" fill="#000" stroke="#000">0</text>
<text transform="translate(168.20,2223.60) rotate(-90) scale(0.985,1)" font-size="29.5" text-anchor="middle" fill="#000" stroke="#000">mean-normalized TPM</text>
<line x1="245.30" y1="2440.10" x2="293.30" y2="2440.10" stroke="#000" stroke-width="2.3"/>
<text transform="translate(300.60,2460.70) rotate(-49.2) scale(1.06,1)" font-size="27.5" text-anchor="end" fill="#000" stroke="#000">S3+/+</text>
<line x1="345.50" y1="2440.10" x2="393.20" y2="2440.10" stroke="#000" stroke-width="2.3"/>
<text transform="translate(400.60,2460.70) rotate(-49.2) scale(1.06,1)" font-size="27.5" text-anchor="end" fill="#000" stroke="#000">S3+/+</text>
<line x1="445.40" y1="2440.10" x2="493.70" y2="2440.10" stroke="#000" stroke-width="2.3"/>
<text transform="translate(510.60,2465.70) rotate(-49.2) scale(1.06,1)" font-size="27.5" text-anchor="end" fill="#000" stroke="#000">MitoS3.A</text>
<line x1="545.30" y1="2440.10" x2="593.60" y2="2440.10" stroke="#000" stroke-width="2.3"/>
<text transform="translate(614.60,2465.70) rotate(-49.2) scale(1.06,1)" font-size="27.5" text-anchor="end" fill="#000" stroke="#000">MitoS3.B</text>
<line x1="678.50" y1="2188.90" x2="678.50" y2="2230.60" stroke="#000" stroke-width="2.8"/>
<rect x="662.00" y="2197.40" width="33.00" height="24.80" fill="#12bbf9" stroke="#000" stroke-width="2.4"/>
<line x1="662.00" y1="2209.40" x2="695.00" y2="2209.40" stroke="#000" stroke-width="2.6"/>
<text transform="translate(707.10,2216.10) scale(1.015,1)" font-size="24.4" text-anchor="start" fill="#000" stroke="#000">2iLIF</text>
<line x1="678.50" y1="2237.90" x2="678.50" y2="2279.60" stroke="#000" stroke-width="2.8"/>
<rect x="662.00" y="2246.40" width="33.00" height="24.80" fill="#2083e8" stroke="#000" stroke-width="2.4"/>
<line x1="662.00" y1="2258.40" x2="695.00" y2="2258.40" stroke="#000" stroke-width="2.6"/>
<text transform="translate(707.10,2266.80) scale(1.015,1)" font-size="24.4" text-anchor="start" fill="#000" stroke="#000">-48h 2iLIF</text>
<rect x="946.80" y="2053.10" width="402.10" height="372.00" fill="#fafafa"/>
<rect x="949.80" y="2018.60" width="96.20" height="30.70" fill="#e3e2df"/>
<text transform="translate(997.30,2044.50) scale(0.89,1)" font-size="26.4" text-anchor="middle" fill="#000" stroke="#000">S3+/+</text>
<rect x="1050.40" y="2018.60" width="96.10" height="30.70" fill="#e3e2df"/>
<text transform="translate(1097.85,2044.50) scale(0.89,1)" font-size="26.4" text-anchor="middle" fill="#000" stroke="#000">S3-/-</text>
<rect x="1150.60" y="2018.60" width="96.10" height="30.70" fill="#e3e2df"/>
<text transform="translate(1198.05,2044.50) scale(0.89,1)" font-size="26.4" text-anchor="middle" fill="#000" stroke="#000">MitoS3.A</text>
<rect x="1250.50" y="2018.60" width="96.30" height="30.70" fill="#e3e2df"/>
<text transform="translate(1298.05,2044.50) scale(0.89,1)" font-size="26.4" text-anchor="middle" fill="#000" stroke="#000">MitoS3.B</text>
<rect x="949.80" y="2053.10" width="46.40" height="31.50" fill="#ffe168"/>
<text transform="translate(971.00,2076.90) scale(0.905,1)" font-size="21.6" text-anchor="middle" fill="#1a1400" stroke="#1a1400" style="stroke-width:0.3px">ref</text>
<rect x="999.00" y="2053.10" width="47.00" height="31.50" fill="#e2b95e"/>
<text transform="translate(1022.50,2076.90) scale(0.905,1)" font-size="21.6" text-anchor="middle" fill="#1a1400" stroke="#1a1400" style="stroke-width:0.3px">0.56</text>
<rect x="1050.40" y="2053.10" width="46.50" height="31.50" fill="#ffe168"/>
<text transform="translate(1073.65,2076.90) scale(0.905,1)" font-size="21.6" text-anchor="middle" fill="#1a1400" stroke="#1a1400" style="stroke-width:0.3px">2.16</text>
<rect x="1099.70" y="2053.10" width="46.80" height="31.50" fill="#e2b95e"/>
<text transform="translate(1123.10,2076.90) scale(0.905,1)" font-size="21.6" text-anchor="middle" fill="#1a1400" stroke="#1a1400" style="stroke-width:0.3px">2.18</text>
<rect x="1150.60" y="2053.10" width="46.40" height="31.50" fill="#ffe168"/>
<text transform="translate(1173.80,2076.90) scale(0.905,1)" font-size="21.6" text-anchor="middle" fill="#1a1400" stroke="#1a1400" style="stroke-width:0.3px">1.18</text>
<rect x="1199.80" y="2053.10" width="46.90" height="31.50" fill="#e2b95e"/>
<text transform="translate(1223.25,2076.90) scale(0.905,1)" font-size="21.6" text-anchor="middle" fill="#1a1400" stroke="#1a1400" style="stroke-width:0.3px">1.41</text>
<rect x="1250.50" y="2053.10" width="46.50" height="31.50" fill="#ffe168"/>
<text transform="translate(1273.75,2076.90) scale(0.905,1)" font-size="21.6" text-anchor="middle" fill="#1a1400" stroke="#1a1400" style="stroke-width:0.3px">1.46</text>
<rect x="1299.80" y="2053.10" width="47.00" height="31.50" fill="#e2b95e"/>
<text transform="translate(1323.30,2076.90) scale(0.905,1)" font-size="21.6" text-anchor="middle" fill="#1a1400" stroke="#1a1400" style="stroke-width:0.3px">1.56</text>
<line x1="975.20" y1="2320.73" x2="975.20" y2="2405.00" stroke="#000" stroke-width="1.8"/>
<rect x="958.30" y="2344.64" width="33.79" height="36.45" fill="#ffd80a" stroke="#000" stroke-width="1.85"/>
<line x1="958.30" y1="2364.47" x2="992.09" y2="2364.47" stroke="#000" stroke-width="3.9"/>
<line x1="1024.47" y1="2262.41" x2="1024.47" y2="2400.92" stroke="#000" stroke-width="1.8"/>
<rect x="1007.58" y="2319.57" width="33.79" height="39.36" fill="#dba424" stroke="#000" stroke-width="1.85"/>
<line x1="1007.58" y1="2339.69" x2="1041.37" y2="2339.69" stroke="#000" stroke-width="3.9"/>
<line x1="1073.46" y1="2187.48" x2="1073.46" y2="2346.97" stroke="#000" stroke-width="1.8"/>
<rect x="1056.57" y="2246.09" width="33.79" height="44.32" fill="#ffd80a" stroke="#000" stroke-width="1.85"/>
<line x1="1056.57" y1="2270.87" x2="1090.36" y2="2270.87" stroke="#000" stroke-width="3.9"/>
<line x1="1122.74" y1="2143.15" x2="1122.74" y2="2372.63" stroke="#000" stroke-width="1.8"/>
<rect x="1105.84" y="2225.38" width="33.79" height="61.53" fill="#dba424" stroke="#000" stroke-width="1.85"/>
<line x1="1105.84" y1="2259.79" x2="1139.63" y2="2259.79" stroke="#000" stroke-width="3.9"/>
<line x1="1172.02" y1="2219.84" x2="1172.02" y2="2401.79" stroke="#000" stroke-width="1.8"/>
<rect x="1155.12" y="2297.99" width="33.79" height="56.28" fill="#ffd80a" stroke="#000" stroke-width="1.85"/>
<line x1="1155.12" y1="2321.32" x2="1188.91" y2="2321.32" stroke="#000" stroke-width="3.9"/>
<line x1="1221.15" y1="2201.18" x2="1221.15" y2="2396.84" stroke="#000" stroke-width="1.8"/>
<rect x="1204.11" y="2273.79" width="34.08" height="50.44" fill="#dba424" stroke="#000" stroke-width="1.85"/>
<line x1="1204.11" y1="2300.90" x2="1238.19" y2="2300.90" stroke="#000" stroke-width="3.9"/>
<line x1="1270.43" y1="2250.17" x2="1270.43" y2="2397.13" stroke="#000" stroke-width="1.8"/>
<rect x="1253.39" y="2299.74" width="34.08" height="40.53" fill="#ffd80a" stroke="#000" stroke-width="1.85"/>
<line x1="1253.39" y1="2321.90" x2="1287.47" y2="2321.90" stroke="#000" stroke-width="3.9"/>
<line x1="1319.71" y1="2213.43" x2="1319.71" y2="2399.75" stroke="#000" stroke-width="1.8"/>
<rect x="1302.67" y="2272.33" width="34.08" height="51.90" fill="#dba424" stroke="#000" stroke-width="1.85"/>
<line x1="1302.67" y1="2297.11" x2="1336.75" y2="2297.11" stroke="#000" stroke-width="3.9"/>
<line x1="946.80" y1="2364.47" x2="1350.00" y2="2364.47" stroke="#e0131a" stroke-width="4.0" stroke-dasharray="14.9 15.42" stroke-dashoffset="2.2"/>
<line x1="946.80" y1="2013.70" x2="946.80" y2="2426.00" stroke="#000" stroke-width="1.8"/>
<line x1="945.90" y1="2425.10" x2="1350.00" y2="2425.10" stroke="#000" stroke-width="1.8"/>
<line x1="941.80" y1="2085.90" x2="946.80" y2="2085.90" stroke="#000" stroke-width="1.8"/>
<text transform="translate(935.20,2084.90) rotate(-90) scale(1.04,1)" font-size="28.4" text-anchor="middle" fill="#000" stroke="#000">3</text>
<line x1="941.80" y1="2192.70" x2="946.80" y2="2192.70" stroke="#000" stroke-width="1.8"/>
<text transform="translate(935.20,2191.70) rotate(-90) scale(1.04,1)" font-size="28.4" text-anchor="middle" fill="#000" stroke="#000">2</text>
<line x1="941.80" y1="2299.60" x2="946.80" y2="2299.60" stroke="#000" stroke-width="1.8"/>
<text transform="translate(935.20,2298.60) rotate(-90) scale(1.04,1)" font-size="28.4" text-anchor="middle" fill="#000" stroke="#000">1</text>
<line x1="941.80" y1="2406.20" x2="946.80" y2="2406.20" stroke="#000" stroke-width="1.8"/>
<text transform="translate(935.20,2405.20) rotate(-90) scale(1.04,1)" font-size="28.4" text-anchor="middle" fill="#000" stroke="#000">0</text>
<text transform="translate(898.50,2223.40) rotate(-90) scale(0.985,1)" font-size="29.5" text-anchor="middle" fill="#000" stroke="#000">mean-normalized TPM</text>
<line x1="983.40" y1="2440.10" x2="1031.20" y2="2440.10" stroke="#000" stroke-width="2.3"/>
<text transform="translate(1038.10,2460.70) rotate(-49.2) scale(1.06,1)" font-size="27.5" text-anchor="end" fill="#000" stroke="#000">S3+/+</text>
<line x1="1083.70" y1="2440.10" x2="1130.90" y2="2440.10" stroke="#000" stroke-width="2.3"/>
<text transform="translate(1140.10,2460.70) rotate(-49.2) scale(1.06,1)" font-size="27.5" text-anchor="end" fill="#000" stroke="#000">S3+/+</text>
<line x1="1183.70" y1="2440.10" x2="1230.90" y2="2440.10" stroke="#000" stroke-width="2.3"/>
<text transform="translate(1248.10,2465.70) rotate(-49.2) scale(1.06,1)" font-size="27.5" text-anchor="end" fill="#000" stroke="#000">MitoS3.A</text>
<line x1="1283.70" y1="2440.10" x2="1331.20" y2="2440.10" stroke="#000" stroke-width="2.3"/>
<text transform="translate(1353.10,2465.70) rotate(-49.2) scale(1.06,1)" font-size="27.5" text-anchor="end" fill="#000" stroke="#000">MitoS3.B</text>
<line x1="1422.50" y1="2188.90" x2="1422.50" y2="2230.60" stroke="#000" stroke-width="2.8"/>
<rect x="1406.00" y="2197.40" width="33.00" height="24.80" fill="#ffd80a" stroke="#000" stroke-width="2.4"/>
<line x1="1406.00" y1="2209.40" x2="1439.00" y2="2209.40" stroke="#000" stroke-width="2.6"/>
<text transform="translate(1451.10,2216.10) scale(1.015,1)" font-size="24.4" text-anchor="start" fill="#000" stroke="#000">2iLIF</text>
<line x1="1422.50" y1="2237.90" x2="1422.50" y2="2279.60" stroke="#000" stroke-width="2.8"/>
<rect x="1406.00" y="2246.40" width="33.00" height="24.80" fill="#dba424" stroke="#000" stroke-width="2.4"/>
<line x1="1406.00" y1="2258.40" x2="1439.00" y2="2258.40" stroke="#000" stroke-width="2.6"/>
<text transform="translate(1451.10,2266.80) scale(1.015,1)" font-size="24.4" text-anchor="start" fill="#000" stroke="#000">-48h 2iLIF</text>
<text transform="translate(787.30,33.60) scale(0.886,1)" font-size="44.0" text-anchor="middle" fill="#000" stroke="#000">PROMOTERS</text>
<text transform="translate(787.00,681.50) scale(0.886,1)" font-size="44.0" text-anchor="middle" fill="#000" stroke="#000">ENHANCERS</text>
<text transform="translate(780.80,1329.20) scale(0.892,1)" font-size="44.0" text-anchor="middle" fill="#000" stroke="#000">IMPRINTED GENES</text>
<text transform="translate(792.50,1977.40) scale(0.886,1)" font-size="44.0" text-anchor="middle" fill="#000" stroke="#000">MERGE</text>
<text transform="translate(5.20,111.90) scale(0.83,1)" font-size="86" text-anchor="start" fill="#000" stroke="#000" font-weight="bold">a</text>
<text transform="translate(-3.60,720.00) scale(0.91,1)" font-size="86" text-anchor="start" fill="#000" stroke="#000" font-weight="bold">b</text>
<text transform="translate(1.40,1315.00) scale(0.9,1)" font-size="86" text-anchor="start" fill="#000" stroke="#000" font-weight="bold">c</text>
<text transform="translate(-0.60,1924.90) scale(0.9,1)" font-size="86" text-anchor="start" fill="#000" stroke="#000" font-weight="bold">d</text>
<rect x="1266.70" y="46.80" width="82.00" height="31.30" fill="#d6d3d0" rx="9"/>
<text transform="translate(1307.90,70.30) scale(0.92,1)" font-size="19.7" text-anchor="middle" fill="#66575a" stroke="#66575a" font-family='"DejaVu Sans", "Liberation Sans", sans-serif' style="stroke-width:0">RNAseq</text>
<rect x="1266.70" y="688.10" width="81.30" height="31.10" fill="#d6d3d0" rx="9"/>
<text transform="translate(1307.55,711.40) scale(0.92,1)" font-size="19.7" text-anchor="middle" fill="#66575a" stroke="#66575a" font-family='"DejaVu Sans", "Liberation Sans", sans-serif' style="stroke-width:0">RNAseq</text>
<rect x="1267.10" y="1329.20" width="80.60" height="29.90" fill="#d6d3d0" rx="9"/>
<text transform="translate(1307.60,1351.30) scale(0.92,1)" font-size="19.7" text-anchor="middle" fill="#66575a" stroke="#66575a" font-family='"DejaVu Sans", "Liberation Sans", sans-serif' style="stroke-width:0">RNAseq</text>
<rect x="1267.10" y="1970.30" width="80.60" height="30.70" fill="#d6d3d0" rx="9"/>
<text transform="translate(1307.60,1993.20) scale(0.92,1)" font-size="19.7" text-anchor="middle" fill="#66575a" stroke="#66575a" font-family='"DejaVu Sans", "Liberation Sans", sans-serif' style="stroke-width:0">RNAseq</text>
</svg>
</body>
</html>
